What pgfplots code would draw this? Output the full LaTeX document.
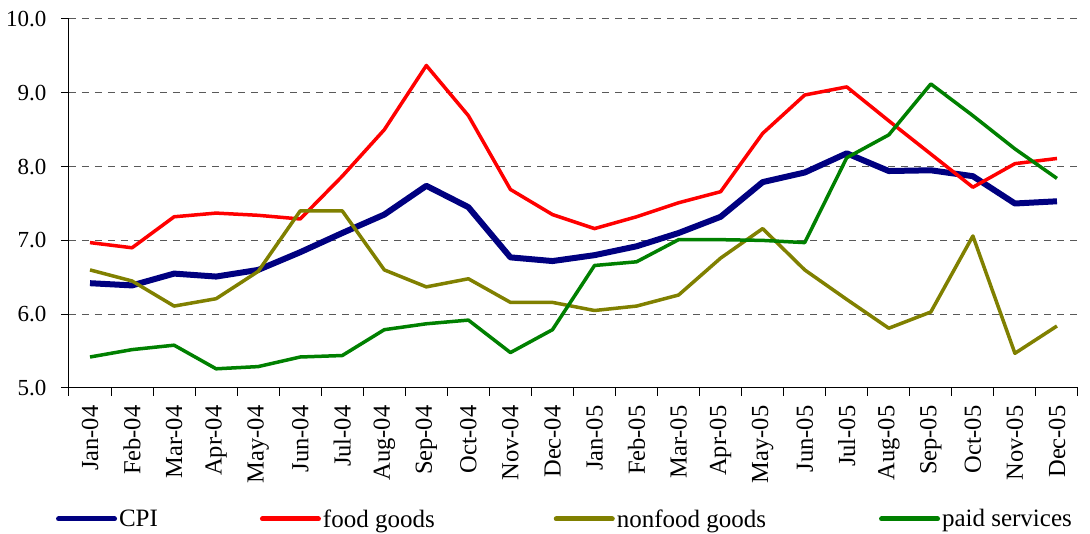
\documentclass[border=0pt]{standalone}
\usepackage{fontspec}
\setmainfont{Liberation Serif}
\usepackage{pgfplots}
\usepackage{pgfplotstable}
\pgfplotsset{compat=1.18}
\definecolor{cpicol}{RGB}{0,0,128}
\definecolor{foodcol}{RGB}{255,0,0}
\definecolor{nonfoodcol}{RGB}{128,128,0}
\definecolor{paidcol}{RGB}{0,128,0}
\pgfplotstableread{
x cpi food nonfood paid
0 6.42 6.97 6.60 5.42
1 6.39 6.90 6.45 5.52
2 6.55 7.32 6.11 5.58
3 6.51 7.37 6.21 5.26
4 6.60 7.34 6.58 5.29
5 6.84 7.29 7.40 5.42
6 7.10 7.87 7.40 5.44
7 7.35 8.50 6.60 5.79
8 7.74 9.37 6.37 5.87
9 7.45 8.69 6.48 5.92
10 6.77 7.69 6.16 5.48
11 6.72 7.35 6.16 5.79
12 6.80 7.16 6.05 6.66
13 6.92 7.32 6.11 6.71
14 7.10 7.51 6.26 7.01
15 7.32 7.66 6.76 7.01
16 7.79 8.45 7.16 7.00
17 7.92 8.97 6.60 6.97
18 8.18 9.08 6.20 8.12
19 7.94 8.62 5.81 8.43
20 7.95 8.17 6.03 9.12
21 7.87 7.72 7.06 8.69
22 7.50 8.04 5.47 8.24
23 7.53 8.11 5.84 7.84
}\datatable
\begin{document}
\begin{tikzpicture}
\begin{axis}[
  at={(0pt,0pt)}, anchor=south west,
  scale only axis, width=1009pt, height=369pt,
  xmin=-0.5, xmax=23.5, ymin=5, ymax=10,
  axis x line*=bottom, axis y line*=left,
  axis line style={line width=1pt, black},
  tick align=outside,
  tick style={black, line width=1pt},
  major tick length=8pt,
  minor tick length=8pt,
  xtick={0,...,23},
  xticklabels={Jan-04,Feb-04,Mar-04,Apr-04,May-04,Jun-04,Jul-04,Aug-04,Sep-04,Oct-04,Nov-04,Dec-04,Jan-05,Feb-05,Mar-05,Apr-05,May-05,Jun-05,Jul-05,Aug-05,Sep-05,Oct-05,Nov-05,Dec-05},
  major x tick style={draw=none},
  minor xtick={-0.5,0.5,...,23.5},
  xticklabel style={yshift=-6pt, rotate=90, anchor=east, font=\fontsize{24.5}{24.5}\selectfont},
  ytick={5,6,7,8,9,10},
  yticklabel style={xshift=-11pt, font=\fontsize{23}{23}\selectfont,
    /pgf/number format/assume math mode=true,
    /pgf/number format/fixed, /pgf/number format/fixed zerofill,
    /pgf/number format/precision=1},
  ymajorgrids,
  grid style={gray!70!black, line width=1pt, dash pattern=on 7pt off 6pt},
  legend style={draw=none, fill=none, at={(-0.016,-0.355)}, anchor=west,
    font=\fontsize{25}{25}\selectfont,
    /tikz/column 2/.style={column sep=100pt},
    /tikz/column 4/.style={column sep=117pt},
    /tikz/column 6/.style={column sep=111pt}},
  legend columns=4,
  legend image code/.code={\draw[#1, line width=5pt, line cap=round] (2pt,0pt) -- (58pt,0pt);},
]
\addplot[cpicol, line width=6pt, line join=round] table[x=x, y=cpi] {\datatable};
\addlegendentry{CPI}
\addplot[foodcol, line width=3.5pt, line join=round] table[x=x, y=food] {\datatable};
\addlegendentry{food goods}
\addplot[nonfoodcol, line width=3.5pt, line join=round] table[x=x, y=nonfood] {\datatable};
\addlegendentry{nonfood goods}
\addplot[paidcol, line width=3.5pt, line join=round] table[x=x, y=paid] {\datatable};
\addlegendentry{paid services}
\end{axis}
\path (-69pt,-146pt) rectangle (1021pt,388pt);
\end{tikzpicture}
\end{document}
